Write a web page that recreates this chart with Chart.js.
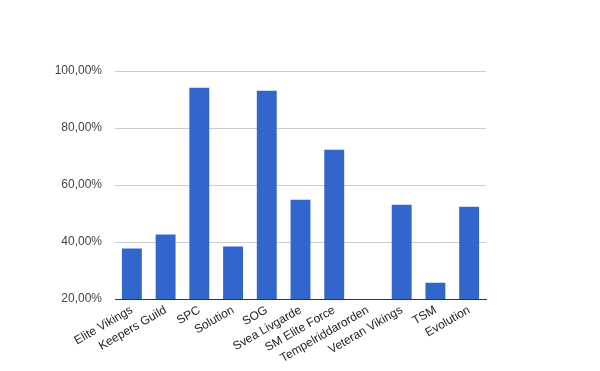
<!DOCTYPE html>
<html>
<head>
<meta charset="utf-8">
<script src="https://cdn.jsdelivr.net/npm/chart.js@4.4.1/dist/chart.umd.min.js"></script>
<style>
html,body{margin:0;padding:0;background:#fff;}
#wrap{width:600px;height:371px;position:relative;}
</style>
</head>
<body>
<div id="wrap"><canvas id="c" width="600" height="371"></canvas></div>
<script>
const categories = ["Elite Vikings","Keepers Guild","SPC","Solution","SOG","Svea Livgarde","SM Elite Force","Tempelriddarorden","Veteran Vikings","TSM","Evolution"];
const values = [37.7, 42.6, 94.1, 38.4, 93.1, 54.8, 72.4, 0, 53.1, 25.7, 52.4];
const yTicks = [20, 40, 60, 80, 100];

new Chart(document.getElementById('c'), {
  type: 'bar',
  data: {
    labels: categories,
    datasets: [{
      data: values,
      backgroundColor: '#3366cc',
      borderWidth: 0,
      categoryPercentage: 1,
      barPercentage: 0.59
    }]
  },
  options: {
    responsive: false,
    animation: false,
    events: [],
    layout: { padding: { top: 71, right: 114, left: 0, bottom: 0 } },
    plugins: { legend: { display: false }, tooltip: { enabled: false } },
    scales: {
      x: {
        grid: { display: false, drawTicks: false },
        border: { display: true, color: '#333333', width: 1 },
        ticks: {
          color: '#222222',
          font: { family: 'Liberation Sans, Arial', size: 12 },
          minRotation: 30, maxRotation: 30,
          autoSkip: false,
          padding: 4
        },
        afterFit: (s) => { s.height = 72; }
      },
      y: {
        min: 20, max: 100,
        afterBuildTicks: (s) => { s.ticks = yTicks.map(v => ({ value: v })); },
        grid: {
          color: (ctx) => (ctx.tick && ctx.tick.value === 20) ? '#333333' : '#cccccc',
          drawTicks: false
        },
        border: { display: false },
        ticks: {
          color: '#444444',
          font: { family: 'Liberation Sans, Arial', size: 12 },
          padding: 13,
          callback: (v) => v.toFixed(2).replace('.', ',') + '%'
        },
        afterFit: (s) => { s.width = 115; }
      }
    }
  }
});
</script>
</body>
</html>
